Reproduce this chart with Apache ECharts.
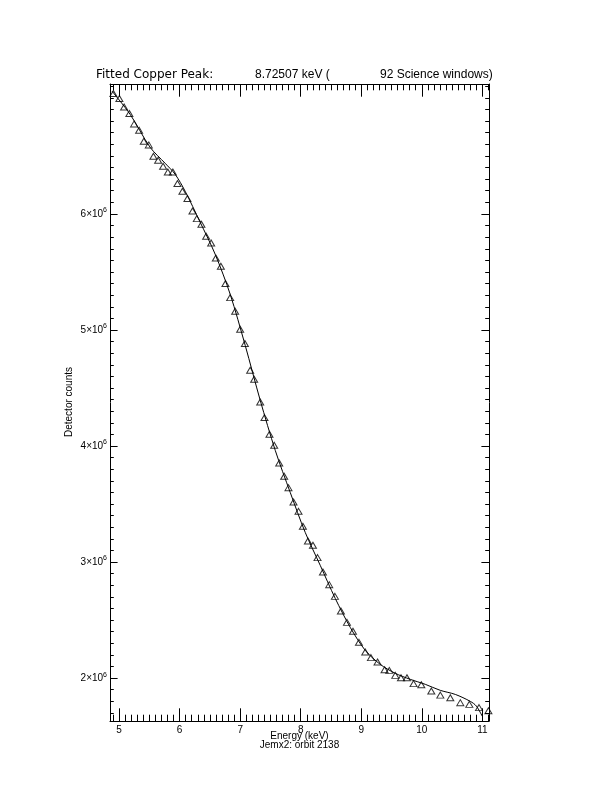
<!DOCTYPE html>
<html><head><meta charset="utf-8">
<script src="https://cdn.jsdelivr.net/npm/echarts@6/dist/echarts.min.js"></script>
<style>html,body{margin:0;padding:0;background:#fff}#c{width:612px;height:792px}</style>
</head><body><div id="c"></div>
<script>
// Measured data (triangles), energy in keV, counts in millions
const energyKeV = [4.906,5.005,5.083,5.170,5.248,5.331,5.408,5.491,5.567,5.645,
  5.727,5.805,5.888,5.964,6.046,6.129,6.212,6.284,6.360,6.438,
  6.521,6.598,6.681,6.757,6.835,6.917,7.000,7.078,7.165,7.231,
  7.331,7.402,7.484,7.562,7.645,7.727,7.798,7.881,7.964,8.036,
  8.119,8.202,8.278,8.367,8.471,8.565,8.664,8.764,8.863,8.962,
  9.066,9.160,9.269,9.385,9.463,9.562,9.656,9.755,9.864,9.992,
  10.157,10.306,10.471,10.636,10.785,10.945,11.100];
const countsM = [7.038,6.995,6.922,6.866,6.776,6.722,6.627,6.595,6.497,6.463,
  6.411,6.362,6.362,6.262,6.196,6.133,6.026,5.960,5.911,5.808,
  5.750,5.621,5.549,5.400,5.279,5.161,5.006,4.883,4.653,4.575,
  4.379,4.245,4.101,4.006,3.853,3.739,3.641,3.517,3.437,3.308,
  3.181,3.144,3.038,2.914,2.805,2.704,2.578,2.480,2.403,2.308,
  2.224,2.176,2.138,2.072,2.066,2.023,2.003,2.003,1.952,1.943,
  1.888,1.853,1.831,1.788,1.773,1.745,1.719];
// Fitted curve
const fitEnergyKeV = [4.884,5.182,5.512,5.760,5.926,6.091,6.339,6.587,6.835,7.083,
  7.331,7.579,7.826,8.074,8.322,8.570,8.818,9.066,9.314,9.562,
  9.810,10.058,10.306,10.554,10.802,10.901,11.0];
const fitCountsM = [7.058,6.859,6.575,6.437,6.342,6.196,5.929,5.653,5.308,4.868,
  4.394,3.963,3.601,3.256,2.972,2.687,2.437,2.239,2.118,2.041,
  1.989,1.946,1.894,1.859,1.799,1.759,1.670];
// Tick labels
const xTickLabels = [5,6,7,8,9,10,11];
const yTickLabels = [2,3,4,5,6]; // ×10^6

const X_MIN = 4.85, X_MAX = 11.11, Y_MIN = 1.63e6, Y_MAX = 7.12e6;
const FONT = '"Liberation Sans", Arial, sans-serif';
const FONT_WIDE = '"DejaVu Sans", sans-serif';

const xMajor = xTickLabels.slice();
const yMajor = yTickLabels.map(v => v * 1e6);
const xMinor = []; for (let i = 49; i <= 111; i++) xMinor.push(i / 10);
const yMinor = []; for (let i = 17; i <= 71; i++) yMinor.push(i * 1e5);

const line = {show: true, onZero: false, lineStyle: {color: '#000', width: 1}};
function xAx(pos, vals, len, showLine, labels) {
  return {type: 'value', gridIndex: 0, position: pos, min: X_MIN, max: X_MAX,
    axisLine: showLine ? line : {show: false},
    axisTick: {show: true, inside: true, length: len, customValues: vals, lineStyle: {color: '#000', width: 1}},
    axisLabel: labels ? {show: true, customValues: xMajor, margin: 4, fontSize: 10, color: '#000', fontFamily: FONT} : {show: false},
    splitLine: {show: false}};
}
function yAx(pos, vals, len, showLine, labels) {
  return {type: 'value', gridIndex: 0, position: pos, min: Y_MIN, max: Y_MAX,
    axisLine: showLine ? line : {show: false},
    axisTick: {show: true, inside: true, length: len, customValues: vals, lineStyle: {color: '#000', width: 1}},
    axisLabel: labels ? {show: true, customValues: yMajor, margin: 3, color: '#000', fontFamily: FONT,
      formatter: v => '{n|' + Math.round(v / 1e6) + '×10}{s|6}',
      rich: {n: {fontSize: 10, lineHeight: 14, fontFamily: FONT, color: '#000'},
             s: {fontSize: 7, lineHeight: 8, verticalAlign: 'top', fontFamily: FONT, color: '#000'}}} : {show: false},
    splitLine: {show: false}};
}

function txt(text, x, y, size, align, rot, fam) {
  return {type: 'text', x: x, y: y, rotation: rot || 0, silent: true,
    style: {text: text, font: size + 'px ' + (fam || FONT), fill: '#000', textAlign: align,
      textVerticalAlign: 'middle', verticalAlign: 'middle'}};
}

const chart = echarts.init(document.getElementById('c'), null, {renderer: 'canvas'});
chart.setOption({
  animation: false,
  backgroundColor: '#fff',
  grid: {left: 110, top: 84, width: 379, height: 637, containLabel: false, outerBoundsMode: 'none'},
  xAxis: [
    xAx('bottom', xMajor, 12.7, true, true),
    xAx('bottom', xMinor, 6.3, false, false),
    xAx('top', xMajor, 12.7, true, false),
    xAx('top', xMinor, 6.3, false, false)
  ],
  yAxis: [
    yAx('left', yMajor, 7.6, true, true),
    yAx('left', yMinor, 3.8, false, false),
    yAx('right', yMajor, 7.6, true, false),
    yAx('right', yMinor, 3.8, false, false)
  ],
  series: [
    {type: 'line', xAxisIndex: 0, yAxisIndex: 0, smooth: 0.3, showSymbol: false, symbol: 'none',
      lineStyle: {color: '#000', width: 1},
      data: fitEnergyKeV.map((x, i) => [x, fitCountsM[i] * 1e6])},
    {type: 'scatter', xAxisIndex: 0, yAxisIndex: 0, symbol: 'triangle', symbolSize: [7, 6],
      itemStyle: {color: 'rgba(0,0,0,0)', borderColor: '#000', borderWidth: 1},
      data: energyKeV.map((x, i) => [x, countsM[i] * 1e6])}
  ],
  graphic: [
    txt('Fitted Copper Peak:', 96, 75, 12, 'left', 0, FONT_WIDE),
    txt('8.72507 keV (', 255, 75, 12, 'left'),
    txt('92 Science windows)', 380, 75, 12, 'left'),
    txt('Detector counts', 69, 402, 10, 'center', Math.PI / 2),
    txt('Energy (keV)', 299.5, 736, 10, 'center'),
    txt('Jemx2: orbit 2138', 299.5, 745, 10, 'center')
  ]
});
</script></body></html>
